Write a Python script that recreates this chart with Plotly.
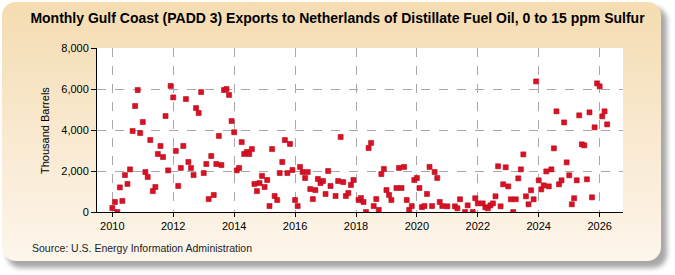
import base64
import pandas as pd
import plotly.graph_objects as go

# ---- data (thousand barrels), monthly from Jan 2010 ----
start_month = "2010-01-01"
values = [
    195, 490, 0, 1200, 540, 1800, 1370, 2080, 3950, 5170, 5950, 3850,          # 2010
    4390, 1950, 1710, 3510, 1020, 1220, 2830, 3220, 2680, 4680, 2030, 6150,    # 2011
    5590, 2980, 1270, 2150, 3220, 5510, 2440, 2150, 1800, 5070, 4830, 5850,    # 2012
    1900, 2340, 630, 2730, 830, 2340, 3710, 2290, 5950, 6000, 5710, 4440,      # 2013
    3890, 2030, 2150, 3410, 2830, 2930, 2830, 3070, 1370, 1020, 1410, 1760,    # 2014
    1220, 1560, 290, 3070, 780, 585, 1900, 2440, 3510, 1900, 3320, 2050,       # 2015
    585, 290, 2200, 1950, 1660, 1950, 1120, 630, 1070, 1610, 1410, 1510,       # 2016
    880, 2000, 1270, None, 780, 1510, 3660, 1460, 780, 930, 1320, 1560,        # 2017
    None, 585, 680, 490, 0, 3120, 3370, 290, 630, 100, 1850, 2100,             # 2018
    1070, 830, 585, None, 1170, 2150, 1170, 2200, 585, 100, 290, 1560,         # 2019
    1660, 1170, 240, 290, 880, 2200, 290, 1950, 1660, 490, 290, None,          # 2020
    276, None, None, 276, 180, 620, None, 0, 325, None, 0, 670,                # 2021
    420, None, 420, 230, 180, 325, 420, 765, 2230, 276, 1350, 2180,            # 2022
    1250, 620, 0, 620, 1640, 2080, 2810, 765, 375, 1060, 620, 6370,            # 2023
    1545, 1105, 1300, 1980, 1250, 2080, 3105, 4910, 1350, 1545, 4370, 2420,    # 2024
    1790, 375, 670, 1545, 4715, 3300, 3250, 1595, 4860, 715, 4130, 6275,       # 2025
    6130, 4665, 4910, 4275,                                                    # 2026
]
dates = pd.date_range(start_month, periods=len(values), freq="MS")

y_tick_vals = [0, 2000, 4000, 6000, 8000]
y_tick_text = ["0", "2,000", "4,000", "6,000", "8,000"]

title_text = "Monthly Gulf Coast (PADD 3) Exports to Netherlands of Distillate Fuel Oil, 0 to 15 ppm Sulfur"
y_title = "Thousand Barrels"
source_text = "Source: U.S. Energy Information Administration"

# ---- geometry ----
W, H = 675, 275
L, R, T, B = 97, 52, 48, 63
pw, ph = W - L - R, H - T - B

# background: rounded beige panel with gradient + shadow, white plot area
svg = f'''<svg xmlns="http://www.w3.org/2000/svg" width="{W}" height="{H}" viewBox="0 0 {W} {H}">
<defs>
<linearGradient id="g" x1="0" y1="0" x2="0" y2="1">
<stop offset="0" stop-color="#F5DCB1"/><stop offset="0.55" stop-color="#F9EAD2"/><stop offset="1" stop-color="#FDF6EC"/>
</linearGradient>
<filter id="b" x="-5%" y="-5%" width="110%" height="110%"><feGaussianBlur stdDeviation="2.5"/></filter>
</defs>
<rect x="0" y="0" width="{W}" height="{H}" fill="#ffffff"/>
<rect x="7" y="7" width="660" height="261" rx="14" ry="14" fill="#a8a8a8" filter="url(#b)"/>
<rect x="2" y="2" width="659" height="259" rx="14" ry="14" fill="url(#g)"/>
<rect x="{L}" y="{T}" width="{pw}" height="{ph}" fill="#ffffff"/>
</svg>'''
svg_uri = "data:image/svg+xml;base64," + base64.b64encode(svg.encode()).decode()

fig = go.Figure()
fig.add_trace(go.Scatter(
    x=dates, y=values, mode="markers",
    marker=dict(symbol="square", size=5, color="#DC1020",
                line=dict(width=0.6, color="#B00C22")),
    hovertemplate="%{x|%b %Y}: %{y:,}<extra></extra>",
))

fig.update_layout(
    width=W, height=H,
    margin=dict(l=L, r=R, t=T, b=B, pad=0),
    paper_bgcolor="white",
    plot_bgcolor="rgba(0,0,0,0)",
    showlegend=False,
    images=[dict(source=svg_uri, xref="paper", yref="paper",
                 x=-L / pw, y=1 + T / ph, sizex=W / pw, sizey=H / ph,
                 xanchor="left", yanchor="top", sizing="stretch", layer="below")],
    title=dict(text=title_text, x=0.5, xref="container", xanchor="center",
               y=1 - 18 / H, yref="container", yanchor="middle",
               font=dict(family="Liberation Sans Narrow, Arial Narrow, Liberation Sans, Arial",
                         size=14, color="#000000", weight="bold")),
    font=dict(family="Liberation Sans, Arial", size=11, color="#000000"),
    xaxis=dict(
        type="date",
        range=["2009-07-01", "2026-10-08"],
        tick0="2010-01-01", dtick="M24", tickformat="%Y",
        showgrid=True, gridcolor="#A8A8A8", griddash="dash", gridwidth=1,
        showline=True, linecolor="#000000", linewidth=1,
        ticks="outside", ticklen=4, tickcolor="#000000",
        zeroline=False, fixedrange=True,
        tickfont=dict(size=11, color="#000000"),
    ),
    yaxis=dict(
        range=[0, 8000],
        tickmode="array", tickvals=y_tick_vals, ticktext=y_tick_text,
        showgrid=True, gridcolor="#A8A8A8", griddash="dash", gridwidth=1,
        showline=True, linecolor="#000000", linewidth=1,
        ticks="outside", ticklen=5, tickcolor="#000000",
        zeroline=False, fixedrange=True,
        tickfont=dict(size=11, color="#000000"),
    ),
    annotations=[
        dict(text=y_title, textangle=-90, xref="paper", yref="paper",
             x=(45 - L) / pw, y=(212 - 131) / ph, xanchor="center", yanchor="middle",
             showarrow=False, font=dict(size=11, color="#000000")),
        dict(text=source_text, xref="paper", yref="paper",
             x=(30 - L) / pw, y=(212 - 248) / ph, xanchor="left", yanchor="middle",
             showarrow=False,
             font=dict(family="Liberation Sans Narrow, Arial Narrow, Liberation Sans, Arial",
                       size=10.5, color="#222222")),
    ],
)

fig.write_html("out.html")
